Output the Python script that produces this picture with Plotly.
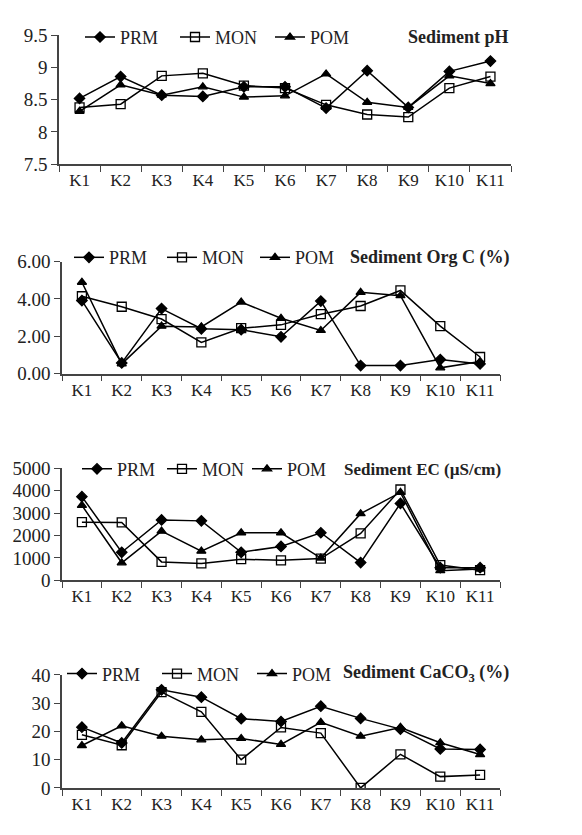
import plotly.graph_objects as go

W, H = 582, 835
sites = ["K1", "K2", "K3", "K4", "K5", "K6", "K7", "K8", "K9", "K10", "K11"]

ph_prm = [8.52, 8.86, 8.57, 8.55, 8.70, 8.70, 8.37, 8.95, 8.38, 8.94, 9.10]
ph_mon = [8.38, 8.43, 8.87, 8.91, 8.72, 8.68, 8.42, 8.27, 8.23, 8.68, 8.86]
ph_pom = [8.32, 8.73, 8.57, 8.70, 8.54, 8.56, 8.90, 8.46, 8.38, 8.87, 8.75]

oc_prm = [3.91, 0.57, 3.48, 2.40, 2.35, 1.97, 3.88, 0.43, 0.43, 0.75, 0.52]
oc_mon = [4.14, 3.58, 2.92, 1.67, 2.43, 2.61, 3.18, 3.62, 4.45, 2.54, 0.89]
oc_pom = [4.89, 0.52, 2.54, 2.50, 3.83, 2.96, 2.31, 4.35, 4.17, 0.31, 0.65]

ec_prm = [3730, 1250, 2690, 2650, 1250, 1510, 2120, 790, 3430, 560, 560]
ec_mon = [2590, 2580, 820, 750, 940, 890, 970, 2090, 4050, 680, 450]
ec_pom = [3340, 780, 2190, 1300, 2120, 2120, 990, 2970, 3920, 430, 500]

ca_prm = [21.5, 15.9, 34.7, 32.1, 24.5, 23.5, 28.9, 24.6, 20.8, 13.8, 13.6]
ca_mon = [18.8, 15.1, 33.9, 26.9, 10.0, 21.4, 19.4, 0.0, 11.9, 4.0, 4.6]
ca_pom = [15.0, 22.0, 18.3, 17.0, 17.5, 15.4, 23.2, 18.3, 21.4, 16.0, 11.8]

series_names = ["PRM", "MON", "POM"]
symbols = ["diamond", "square-open", "triangle-up"]

panels = [
    dict(data=[ph_prm, ph_mon, ph_pom], title="Sediment pH",
         yrange=[7.5, 9.5], dtick=0.5, fmt="", x0=59, x1=511, ytop=26, ybot=158,
         leg=(80, 28), tx=511, ew=50, ts=18),
    dict(data=[oc_prm, oc_mon, oc_pom], title="Sediment Org C (%)",
         yrange=[0, 6], dtick=2, fmt=".2f", x0=62, x1=500, ytop=258, ybot=373,
         leg=(69, 254), tx=511, ew=48, ts=18),
    dict(data=[ec_prm, ec_mon, ec_pom], title="Sediment EC (µS/cm)",
         yrange=[0, 5000], dtick=1000, fmt="d", x0=62, x1=500, ytop=470, ybot=585,
         leg=(77, 471), tx=503, ew=40, ts=17),
    dict(data=[ca_prm, ca_mon, ca_pom], title="Sediment CaCO<sub>3</sub> (%)",
         yrange=[0, 40], dtick=10, fmt="d", x0=62, x1=500, ytop=682, ybot=798,
         leg=(62, 681), tx=511, ew=50, ts=18),
]

FONT = "Liberation Serif"
fig = go.Figure()
layout = dict(width=W, height=H, margin=dict(l=0, r=0, t=0, b=0),
              paper_bgcolor="white", plot_bgcolor="white",
              font=dict(family=FONT, size=16, color="#222"),
              showlegend=True, annotations=[])

for i, p in enumerate(panels):
    n = "" if i == 0 else str(i + 1)
    legname = "legend" + n
    for vals, name, sym in zip(p["data"], series_names, symbols):
        fig.add_trace(go.Scatter(
            x=sites, y=vals, name=name, mode="lines+markers",
            line=dict(color="black", width=1.5),
            marker=dict(symbol=sym, size=8 if sym != "square-open" else 9,
                        color="black", line=dict(color="black", width=1.3)),
            xaxis="x" + n, yaxis="y" + n, legend=legname, showlegend=True))
    xd = [p["x0"] / W, p["x1"] / W]
    yd = [1 - p["ybot"] / H, 1 - p["ytop"] / H]
    layout["xaxis" + n] = dict(
        domain=xd, anchor="y" + n, type="category", categoryarray=sites,
        range=[-0.5, 10.5], tickson="boundaries", ticks="outside", ticklen=6,
        tickcolor="#444", tickwidth=1.3, showline=True, linecolor="#444",
        linewidth=1.5, showgrid=False, zeroline=False, tickangle=0,
        tickfont=dict(family=FONT, size=17, color="#222"))
    layout["yaxis" + n] = dict(
        domain=yd, anchor="x" + n, range=p["yrange"], dtick=p["dtick"],
        tick0=p["yrange"][0], tickformat=p["fmt"], ticks="outside", ticklen=6,
        tickcolor="#444", tickwidth=1.3, showline=True, linecolor="#444",
        linewidth=1.5, showgrid=False, zeroline=False,
        tickfont=dict(family=FONT, size=19, color="#222"))
    lx, ly = p["leg"]
    layout[legname] = dict(
        x=lx / W, y=1 - ly / H, xanchor="left", yanchor="middle",
        orientation="h", bgcolor="rgba(0,0,0,0)", borderwidth=0,
        font=dict(family=FONT, size=18, color="#222"), itemwidth=30,
        entrywidth=p["ew"], entrywidthmode="pixels", tracegroupgap=0)
    layout["annotations"].append(dict(
        text="<b>" + p["title"] + "</b>", xref="paper", yref="paper",
        x=p["tx"] / W, y=1 - ly / H,
        xanchor="right", yanchor="middle", showarrow=False,
        font=dict(family=FONT, size=p["ts"], color="#222")))

fig.update_layout(**layout)
fig.write_html("out.html")
